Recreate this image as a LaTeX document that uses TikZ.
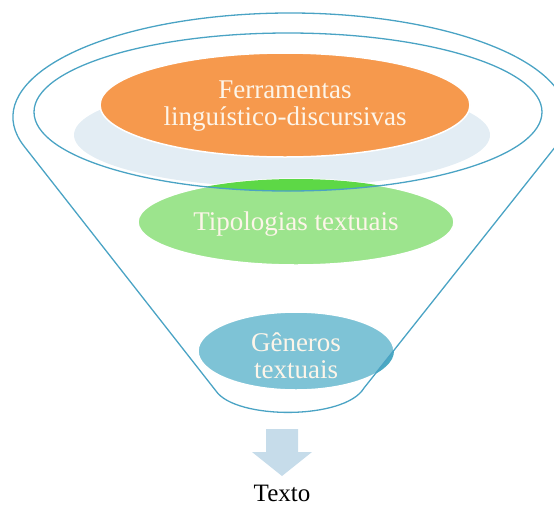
\documentclass[tikz,border=0pt]{standalone}
\usepackage{fontspec}
\setmainfont{Liberation Serif}

\definecolor{rim}{HTML}{4AA3C4}
\definecolor{glass}{HTML}{E3EDF4}
\definecolor{toporange}{HTML}{F6994D}
\definecolor{midgreen}{HTML}{9CE48D}
\definecolor{midgreendark}{HTML}{5DD846}
\definecolor{lowteal}{HTML}{7EC3D6}
\definecolor{lowtealdark}{HTML}{4AA9C3}
\definecolor{arrowblue}{HTML}{C6DCEA}
\definecolor{cream}{HTML}{FDF5E9}

\tikzset{
  rimline/.style = {draw=rim, line width=1.3pt},
  stage/.style = {draw=white, line width=1.5pt},
  stagetext/.style = {text=cream, align=center, font=\fontsize{27}{27}\selectfont},
}

\begin{document}
\begin{tikzpicture}[x=1pt, y=-1pt]
    \useasboundingbox (0,0) rectangle (554,507);
    \clip (0,0) rectangle (554,507);
    \coordinate (rimL) at (24.1,146.2);
    \coordinate (rimR) at (555.9,146.2);
    \coordinate (baseL) at (216,391);
    \coordinate (baseR) at (364,388);
    % glass behind the stages
    \fill [glass] (282,135) ellipse [x radius=208, y radius=52];
    % stages
    \fill [toporange, stage] (285,105) ellipse [x radius=185, y radius=52];
    \fill [midgreen, stage] (296,222) ellipse [x radius=158, y radius=43];
    \begin{scope}
        \clip (288,112) ellipse [x radius=254, y radius=79];
        \fill [midgreendark] (296,222) ellipse [x radius=158, y radius=43];
    \end{scope}
    \fill [lowteal, stage] (296,351) ellipse [x radius=98, y radius=39];
    \begin{scope}
        \clip (baseR) -- (rimR) -- (600,146) -- (600,420) -- cycle;
        \fill [lowtealdark] (296,351) ellipse [x radius=98, y radius=39];
    \end{scope}
    % funnel
    \draw [rimline] (288,112) ellipse [x radius=254, y radius=79];
    \draw [rimline] (rimL) arc [start angle=163.7, end angle=376.3, x radius=277, y radius=104]
        -- (baseR) .. controls (345,420) and (236,420) .. (baseL) -- cycle;
    % arrow
    \fill [arrowblue] (266,429) -- (298,429) -- (298,452) -- (312,452) -- (282,476)
        -- (252,452) -- (266,452) -- cycle;
    \node (tools) at (285,106.5) [stagetext] {Ferramentas\\lingu\'istico-discursivas};
    \node (types) at (296,224) [stagetext] {Tipologias textuais};
    \node (genres) at (296,355.5) [stagetext] {G\^eneros\\textuais};
    \node (text) at (282,493) [font=\fontsize{25}{28}\selectfont] {Texto};
\end{tikzpicture}
\end{document}
